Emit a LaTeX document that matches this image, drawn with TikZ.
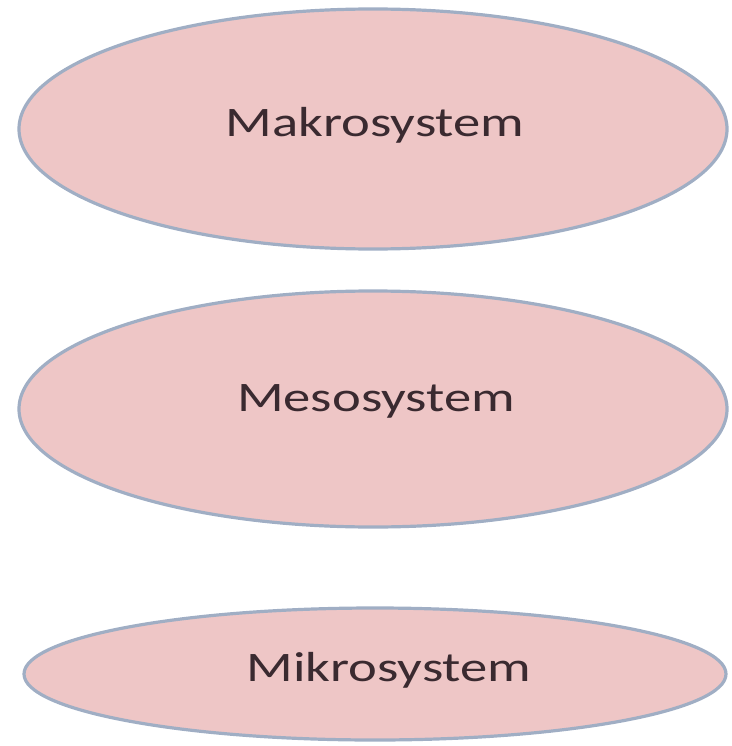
\documentclass[tikz,border=0pt]{standalone}
\usepackage{fontspec}
\setmainfont{Carlito}
\usetikzlibrary{shapes.geometric}
\definecolor{ellfill}{HTML}{EEC6C6}
\definecolor{elldraw}{HTML}{A0AEC4}
\definecolor{txt}{HTML}{3A2A30}
\tikzset{
  sysell/.style={ellipse, draw=elldraw, line width=3.2pt, fill=ellfill, inner sep=0pt},
  systext/.style={text=txt, inner sep=0pt, font=\fontsize{42}{42}\selectfont}
}
\begin{document}
\begin{tikzpicture}[x=1pt,y=-1pt]
\useasboundingbox (0,0) rectangle (731,746);
\node[sysell, minimum width=708pt, minimum height=240pt] (makro) at (373,129) {};
\node[sysell, minimum width=708pt, minimum height=236pt] (meso) at (373,409) {};
\node[sysell, minimum width=702pt, minimum height=132pt] (mikro) at (375,674) {};
\node[systext] (tmakro) at (375,125) {\scalebox{1.3}[1]{Makrosystem}};
\node[systext] (tmeso) at (376,401) {\scalebox{1.3}[1]{Mesosystem}};
\node[systext] (tmikro) at (389,670) {\scalebox{1.3}[1]{Mikrosystem}};
\end{tikzpicture}
\end{document}
